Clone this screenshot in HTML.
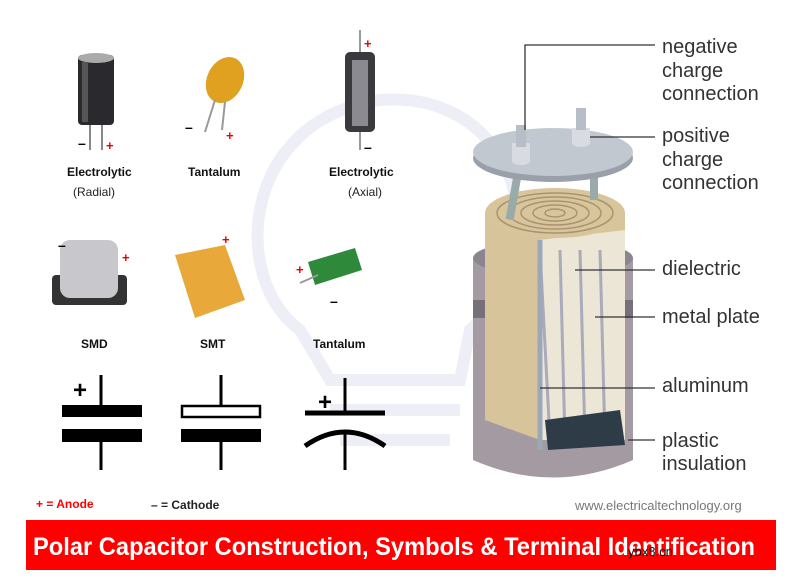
<!DOCTYPE html>
<html><head><style>
body{margin:0;width:809px;height:581px;background:#fff;overflow:hidden;font-family:"Liberation Sans",sans-serif}
</style></head><body>
<svg width="809" height="581" viewBox="0 0 809 581" xmlns="http://www.w3.org/2000/svg" font-family="Liberation Sans, sans-serif">
<!-- watermark bulb -->
<g fill="none" stroke="#eeeff6" stroke-width="12">
<path d="M300 330 C230 280 240 120 380 100 C520 90 560 250 470 330 L460 380 L330 380 Z"/>
<path d="M330 410 H460 M340 440 H450"/>
</g>
<!-- Electrolytic radial -->
<rect x="78" y="55" width="36" height="70" rx="4" fill="#2a2a2e"/>
<ellipse cx="96" cy="58" rx="18" ry="5" fill="#aaa"/>
<rect x="82" y="62" width="6" height="60" fill="#555"/>
<line x1="90" y1="125" x2="90" y2="150" stroke="#888" stroke-width="2"/>
<line x1="102" y1="125" x2="102" y2="150" stroke="#888" stroke-width="2"/>
<text x="78" y="148" font-size="14" font-weight="bold">–</text>
<text x="106" y="150" font-size="13" font-weight="bold" fill="#e00">+</text>
<!-- Tantalum -->
<ellipse cx="225" cy="80" rx="18" ry="24" fill="#e0a020" transform="rotate(25 225 80)"/>
<line x1="215" y1="100" x2="205" y2="132" stroke="#999" stroke-width="2"/>
<line x1="225" y1="102" x2="222" y2="130" stroke="#999" stroke-width="2"/>
<text x="185" y="132" font-size="14" font-weight="bold">–</text>
<text x="226" y="140" font-size="13" font-weight="bold" fill="#e00">+</text>
<!-- Axial -->
<line x1="360" y1="30" x2="360" y2="150" stroke="#999" stroke-width="2"/>
<rect x="345" y="52" width="30" height="80" rx="5" fill="#3a3a3e"/>
<rect x="352" y="60" width="16" height="66" fill="#8a8a90"/>
<text x="364" y="48" font-size="13" font-weight="bold" fill="#e00">+</text>
<text x="364" y="152" font-size="14" font-weight="bold">–</text>
<g font-size="12" font-weight="bold" fill="#111">
<text x="67" y="176">Electrolytic</text>
<text x="188" y="176">Tantalum</text>
<text x="329" y="176">Electrolytic</text>
<text x="81" y="348">SMD</text>
<text x="200" y="348">SMT</text>
<text x="313" y="348">Tantalum</text>
</g>
<g font-size="12" fill="#222">
<text x="73" y="196">(Radial)</text>
<text x="348" y="196">(Axial)</text>
</g>
<!-- SMD -->
<rect x="52" y="275" width="75" height="30" rx="4" fill="#333"/>
<rect x="60" y="240" width="58" height="58" rx="10" fill="#c8c8cc"/>
<text x="58" y="250" font-size="14" font-weight="bold">–</text>
<text x="122" y="262" font-size="13" font-weight="bold" fill="#e00">+</text>
<!-- SMT -->
<polygon points="175,255 225,245 245,300 195,318" fill="#e8a83a"/>
<text x="222" y="244" font-size="13" font-weight="bold" fill="#e00">+</text>
<!-- Tantalum green -->
<polygon points="308,262 355,248 362,270 315,285" fill="#2e8a3a"/>
<line x1="300" y1="283" x2="318" y2="275" stroke="#999" stroke-width="2"/>
<text x="296" y="274" font-size="13" font-weight="bold" fill="#e00">+</text>
<text x="330" y="306" font-size="14" font-weight="bold">–</text>
<!-- symbols -->
<g fill="#000" stroke="#000">
<line x1="101" y1="375" x2="101" y2="405" stroke-width="3"/>
<line x1="101" y1="442" x2="101" y2="470" stroke-width="3"/>
<rect x="62" y="405" width="80" height="12" stroke="none"/>
<rect x="62" y="429" width="80" height="13" stroke="none"/>
<line x1="221" y1="375" x2="221" y2="405" stroke-width="3"/>
<line x1="221" y1="442" x2="221" y2="470" stroke-width="3"/>
<rect x="182" y="406" width="78" height="11" fill="#fff" stroke-width="2.5"/>
<rect x="181" y="429" width="80" height="13" stroke="none"/>
<line x1="345" y1="378" x2="345" y2="413" stroke-width="3"/>
<line x1="345" y1="430" x2="345" y2="470" stroke-width="3"/>
<line x1="305" y1="413" x2="385" y2="413" stroke-width="5"/>
<path d="M305 446 Q345 418 385 446" fill="none" stroke-width="5"/>
</g>
<text x="73" y="398" font-size="24" font-weight="bold">+</text>
<text x="318" y="410" font-size="24" font-weight="bold">+</text>
<text x="36" y="508" font-size="12" font-weight="bold" fill="#f00">+ = Anode</text>
<text x="151" y="509" font-size="12" font-weight="bold" fill="#222">– = Cathode</text>
<text x="575" y="510" font-size="13" fill="#777">www.electricaltechnology.org</text>
<!-- capacitor -->
<path d="M473 258 L473 460 Q553 495 633 460 L633 258 Z" fill="#a49aa2"/>
<ellipse cx="553" cy="258" rx="80" ry="18" fill="#8c8490"/>
<rect x="473" y="300" width="160" height="18" fill="#77707a"/>
<path d="M485 213 L485 420 L540 440 L625 430 L625 213 Z" fill="#d8c49a"/>
<path d="M540 240 L540 440 L625 440 L625 230 Z" fill="#ece6d6"/>
<path d="M550 440 L540 250 M565 440 L560 250 M585 440 L580 250 M605 440 L600 250" stroke="#aab" stroke-width="3"/>
<path d="M545 420 L620 410 L625 445 L548 450 Z" fill="#2e3c48"/>
<path d="M540 240 L540 450" stroke="#9aa8b8" stroke-width="5"/>
<ellipse cx="555" cy="213" rx="70" ry="25" fill="#d9c59c"/>
<g fill="none" stroke="#a89470" stroke-width="1.5">
<ellipse cx="555" cy="213" rx="58" ry="20"/><ellipse cx="555" cy="213" rx="46" ry="16"/><ellipse cx="555" cy="213" rx="34" ry="12"/><ellipse cx="555" cy="213" rx="22" ry="8"/><ellipse cx="555" cy="213" rx="10" ry="4"/>
</g>
<rect x="510" y="175" width="8" height="45" fill="#9aa" transform="rotate(10 514 195)"/>
<rect x="590" y="170" width="8" height="30" fill="#9aa"/>
<ellipse cx="553" cy="158" rx="80" ry="24" fill="#9aa0aa"/>
<ellipse cx="553" cy="152" rx="80" ry="24" fill="#c2c8d0"/>
<rect x="512" y="143" width="18" height="18" fill="#d8dce2"/><ellipse cx="521" cy="161" rx="9" ry="4" fill="#d8dce2"/>
<rect x="516" y="125" width="10" height="22" fill="#b8bec8"/>
<rect x="572" y="128" width="18" height="15" fill="#d8dce2"/><ellipse cx="581" cy="143" rx="9" ry="4" fill="#d8dce2"/>
<rect x="576" y="108" width="10" height="22" fill="#b8bec8"/>
<!-- leader lines -->
<g stroke="#333" stroke-width="1.3" fill="none">
<path d="M525 130 V45 H655"/>
<line x1="590" y1="137" x2="655" y2="137"/>
<line x1="575" y1="270" x2="655" y2="270"/>
<line x1="595" y1="317" x2="655" y2="317"/>
<line x1="540" y1="388" x2="655" y2="388"/>
<line x1="628" y1="440" x2="655" y2="440"/>
</g>
<g font-size="20" fill="#333">
<text x="662" y="53">negative</text><text x="662" y="77">charge</text><text x="662" y="100">connection</text>
<text x="662" y="142">positive</text><text x="662" y="166">charge</text><text x="662" y="189">connection</text>
<text x="662" y="275">dielectric</text>
<text x="662" y="323">metal plate</text>
<text x="662" y="392">aluminum</text>
<text x="662" y="447">plastic</text><text x="662" y="470">insulation</text>
</g>
<!-- banner -->
<rect x="26" y="520" width="750" height="50" fill="#f00"/>
<text x="33" y="555" font-size="25" font-weight="bold" fill="#fff" textLength="722" lengthAdjust="spacingAndGlyphs">Polar Capacitor Construction, Symbols &amp; Terminal Identification</text>
<text x="628" y="556" font-size="13" fill="#111">ybx8.cn</text>
</svg>
</body></html>
